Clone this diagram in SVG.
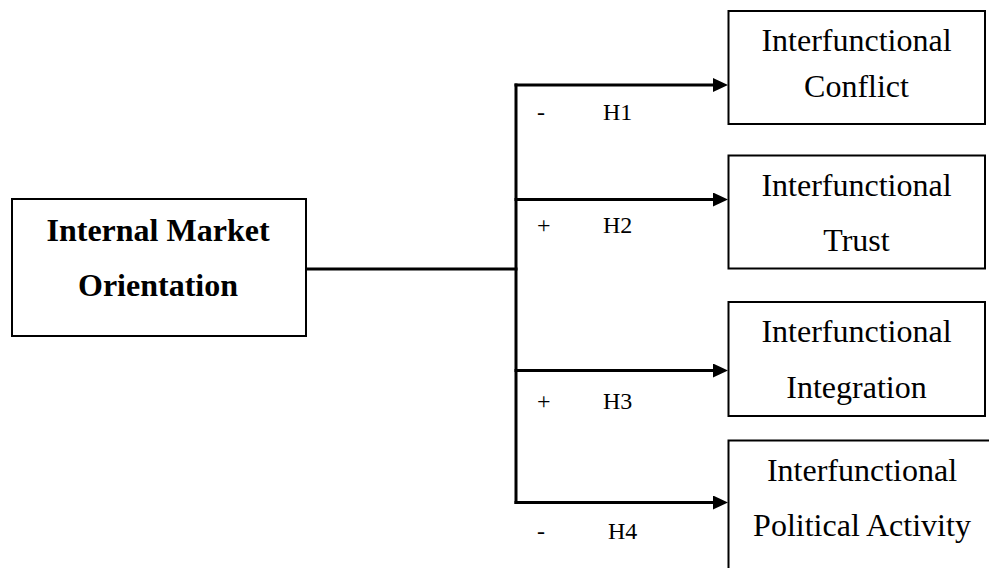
<svg xmlns="http://www.w3.org/2000/svg" width="989" height="568" viewBox="0 0 989 568">
  <style>
    .box { fill: #ffffff; stroke: #000000; stroke-width: 2; }
    .link { fill: none; stroke: #000000; stroke-width: 3; }
    .name { font-family: "Liberation Serif", "Times New Roman", serif; font-size: 32px; fill: #000000; text-anchor: middle; }
    .bold { font-weight: bold; }
    .sign { font-family: "Liberation Serif", "Times New Roman", serif; font-size: 24px; fill: #000000; }
  </style>
  <defs>
    <marker id="head" markerUnits="userSpaceOnUse" markerWidth="16" markerHeight="15" refX="3" refY="7" orient="auto">
      <path d="M0,0 L15,7 L0,14 Z" fill="#000000"/>
    </marker>
  </defs>
  <rect width="989" height="568" fill="#ffffff"/>

  <g id="imo">
    <rect class="box" x="12" y="199" width="294" height="137"/>
    <text class="name bold" x="158" y="241">Internal Market</text>
    <text class="name bold" x="158" y="296">Orientation</text>
  </g>

  <g id="conflict">
    <rect class="box" x="728.5" y="11" width="256.5" height="113"/>
    <text class="name" x="856.5" y="50.5">Interfunctional</text>
    <text class="name" x="856.5" y="96.5">Conflict</text>
  </g>

  <g id="trust">
    <rect class="box" x="728.5" y="155.5" width="256.5" height="113"/>
    <text class="name" x="856.5" y="195.5">Interfunctional</text>
    <text class="name" x="856.5" y="250.5">Trust</text>
  </g>

  <g id="integration">
    <rect class="box" x="728.5" y="302" width="256.5" height="114"/>
    <text class="name" x="856.5" y="341.5">Interfunctional</text>
    <text class="name" x="856.5" y="398">Integration</text>
  </g>

  <g id="political">
    <rect class="box" x="728.5" y="440.5" width="270" height="140"/>
    <text class="name" x="862" y="480.5">Interfunctional</text>
    <text class="name" x="862" y="535.5">Political Activity</text>
  </g>

  <g id="connectors">
    <line class="link" x1="306" y1="269" x2="517.5" y2="269"/>
    <line class="link" x1="516" y1="83.5" x2="516" y2="504"/>
    <line class="link" x1="514.5" y1="85" x2="716" y2="85" marker-end="url(#head)"/>
    <line class="link" x1="514.5" y1="199.5" x2="716" y2="199.5" marker-end="url(#head)"/>
    <line class="link" x1="514.5" y1="370.5" x2="716" y2="370.5" marker-end="url(#head)"/>
    <line class="link" x1="514.5" y1="502.5" x2="716" y2="502.5" marker-end="url(#head)"/>
  </g>

  <g id="labels">
    <text class="sign" x="537" y="120">-</text>
    <text class="sign" x="603" y="120">H1</text>
    <text class="sign" x="537" y="233">+</text>
    <text class="sign" x="603" y="233">H2</text>
    <text class="sign" x="537" y="409">+</text>
    <text class="sign" x="603" y="409">H3</text>
    <text class="sign" x="537" y="539">-</text>
    <text class="sign" x="608" y="539">H4</text>
  </g>
</svg>
